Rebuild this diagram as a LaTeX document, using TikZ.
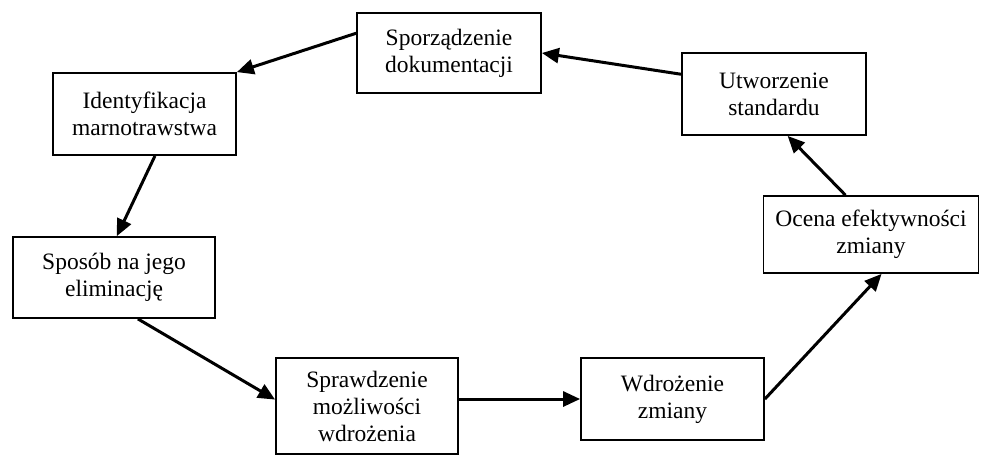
\documentclass[tikz,border=0pt]{standalone}
\usepackage{fontspec}
\setmainfont{Liberation Serif}
\usetikzlibrary{arrows.meta}
\tikzset{
    step-box/.style = {draw=black, fill=white, line width=1.8pt, rectangle, align=center, inner sep=4pt, font=\fontsize{23.5}{27}\selectfont},
    flow-arrow/.style = {draw=black, line width=3pt, -{Triangle[length=17pt,width=15pt]}},
}
\begin{document}
\begin{tikzpicture}[x=1pt,y=-1pt]
\useasboundingbox (0,0) rectangle (981,456);
\node [step-box, minimum width=184pt, minimum height=80pt] (dok) at (449,53) {Sporządzenie\\dokumentacji};
\node [step-box, minimum width=184pt, minimum height=82pt] (std) at (774,94) {Utworzenie\\standardu};
\node [step-box, minimum width=183pt, minimum height=82pt] (ident) at (144.5,114) {Identyfikacja\\marnotrawstwa};
\node [step-box, minimum width=202pt, minimum height=81pt] (elim) at (114,277.5) {Sposób na jego\\eliminację};
\node [step-box, minimum width=182pt, minimum height=96pt] (spr) at (367,406) {Sprawdzenie\\możliwości\\wdrożenia};
\node [step-box, minimum width=183pt, minimum height=82pt] (wdr) at (672.5,399) {Wdrożenie\\zmiany};
\node [step-box, minimum width=215pt, minimum height=77pt] (ocena) at (871,234.5) {Ocena efektywności\\zmiany};
\draw [flow-arrow] (dok.168) -- (ident.north east);
\draw [flow-arrow] (ident.-76) -- (elim.86);
\draw [flow-arrow] (elim.-60) -- (spr.176);
\draw [flow-arrow] (wdr.west -| spr.east) -- (wdr.west);
\draw [flow-arrow] (wdr.east) -- (ocena.-75);
\draw [flow-arrow] (ocena.123) -- (std.-72);
\draw [flow-arrow] (std.168) -- (dok.east);
\end{tikzpicture}
\end{document}
